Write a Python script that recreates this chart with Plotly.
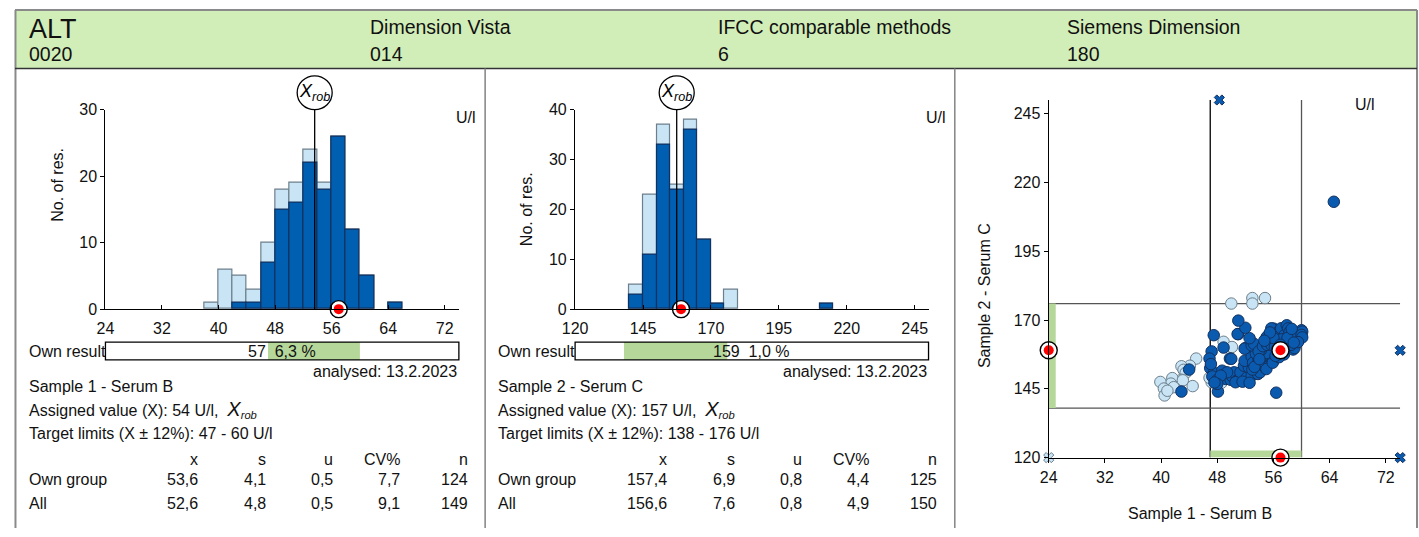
import plotly.graph_objects as go

W, H = 1419, 537
FONT = "Liberation Sans, Arial, Helvetica, sans-serif"

# ---------------- header ----------------
analyte, analyte_code = "ALT", "0020"
instrument, instrument_code = "Dimension Vista", "014"
method, method_code = "IFCC comparable methods", "6"
reagent, reagent_code = "Siemens Dimension", "180"

# ---------------- sample 1 (Serum B) histogram, bins of 2 U/l ----------------
s1_bin_start = [38, 40, 42, 44, 46, 48, 50, 52, 54, 56, 58, 60, 62, 64]
s1_bin_width = 2
s1_all = [1, 6, 5, 3, 10, 18, 19, 24, 19, 26, 12, 5, 0, 1]
s1_own = [0, 0, 1, 1, 7, 15, 16, 22, 18, 26, 12, 5, 0, 1]
s1_xrob = 53.6
s1_result = 57
s1_limits = (47, 60)
s1_assigned = 54
s1_ticks_x = [24, 32, 40, 48, 56, 64, 72]
s1_ticks_y = [0, 10, 20, 30]
s1_stats_own = [53.6, 4.1, 0.5, 7.7, 124]
s1_stats_all = [52.6, 4.8, 0.5, 9.1, 149]

# ---------------- sample 2 (Serum C) histogram, bins of 5 U/l ----------------
s2_bin_start = [140, 145, 150, 155, 160, 165, 170, 175, 180, 185, 190, 195, 200, 205, 210]
s2_bin_width = 5
s2_all = [5, 23, 37, 25, 38, 14, 1, 4, 0, 0, 0, 0, 0, 0, 1]
s2_own = [3, 11, 33, 24, 36, 14, 1, 0, 0, 0, 0, 0, 0, 0, 1]
s2_xrob = 157.4
s2_result = 159
s2_limits = (138, 176)
s2_assigned = 157
s2_ticks_x = [120, 145, 170, 195, 220, 245]
s2_ticks_y = [0, 10, 20, 30, 40]
s2_stats_own = [157.4, 6.9, 0.8, 4.4, 125]
s2_stats_all = [156.6, 7.6, 0.8, 4.9, 150]

stat_cols = ["x", "s", "u", "CV%", "n"]
analysed = "13.2.2023"

# ---------------- Youden plot: sample 1 vs sample 2 ----------------
own_x = [47.5, 47.2, 46.9, 47.0, 47.5, 47.1, 47.3, 44.0, 42.9, 48.1,
         48.0, 48.7, 49.0, 49.2, 49.9, 50.1, 50.4, 50.8, 51.0, 51.3,
         51.8, 52.0, 52.2, 52.5, 52.9, 53.7, 53.8, 54.1, 54.6, 54.8,
         55.0, 49.4, 48.5, 50.6, 51.6, 52.6, 48.9, 49.8, 50.0, 51.9,
         52.9, 53.1, 53.9, 53.8, 54.8, 55.5, 55.9, 56.0, 55.9, 55.5,
         55.0, 54.2, 53.5, 52.0, 51.9, 52.9, 53.2, 52.6, 51.0, 50.9,
         52.0, 51.0, 53.9, 54.5, 53.0, 55.0, 55.1, 55.1, 55.7, 56.0,
         56.4, 55.7, 56.7, 56.9, 57.1, 57.6, 57.9, 58.1, 58.3, 58.1,
         57.9, 58.8, 59.0, 59.0, 59.0, 60.0, 60.1, 60.0, 60.1, 58.5,
         57.2, 56.2, 56.6, 57.5, 56.8, 58.0, 59.5, 56.0, 57.0, 58.6,
         55.5, 54.7, 56.4, 64.6, 48.0, 47.6, 53.3, 54.0, 56.3, 58.9]
own_y = [164.5, 158.6, 156.0, 152.5, 150.8, 154.0, 149.5, 152.0, 144.0, 144.0,
         148.2, 151.6, 149.0, 148.6, 148.3, 149.6, 151.0, 148.0, 148.2, 151.0,
         153.4, 148.0, 149.0, 152.8, 149.8, 152.8, 150.4, 151.0, 153.4, 152.8,
         152.2, 151.0, 149.8, 147.4, 147.6, 147.2, 160.0, 156.0, 155.9, 155.2,
         156.7, 154.5, 155.0, 156.6, 157.2, 156.8, 155.6, 155.2, 154.5, 158.6,
         158.0, 159.0, 157.8, 159.8, 159.6, 160.8, 161.4, 163.4, 164.9, 164.9,
         167.2, 169.8, 158.6, 160.5, 152.0, 163.5, 164.0, 161.0, 161.0, 166.9,
         166.4, 167.0, 162.1, 166.3, 167.0, 164.6, 168.1, 167.0, 165.7, 162.1,
         159.9, 159.3, 159.8, 164.6, 165.3, 166.3, 165.8, 164.6, 163.7, 161.0,
         163.0, 160.2, 158.0, 157.5, 156.5, 163.5, 162.0, 163.5, 161.0, 166.8,
         165.5, 162.5, 143.6, 213.0, 146.8, 147.3, 153.0, 155.8, 157.0, 161.8]
other_x = [50.0, 53.0, 53.0, 54.8, 48.9, 50.1, 45.0, 44.1, 42.9, 43.2,
           43.5, 42.9, 41.6, 41.4, 39.9, 40.4, 40.5, 43.1, 41.8, 47.2,
           48.6, 40.9, 46.9, 49.3, 44.5]
other_y = [176.0, 178.0, 176.0, 178.0, 162.1, 160.2, 156.0, 153.4, 153.2, 151.9,
           150.8, 148.3, 148.9, 146.9, 147.5, 145.1, 142.6, 148.1, 145.6, 147.4,
           147.2, 144.3, 149.0, 149.3, 146.0]
# results falling outside the plotted range (shown on the frame edge)
own_out_x = [48.3, 80.0, 82.0]
own_out_y = [262.0, 159.0, 105.0]
other_out_x = [20.0]
other_out_y = [100.0]
yd_ticks_x = [24, 32, 40, 48, 56, 64, 72]
yd_ticks_y = [120, 145, 170, 195, 220, 245]

# ---------------- colours ----------------
DARK = "#005fb1"
DARK_LINE = "#12315f"
LIGHT = "#c8e4f5"
LIGHT_LINE = "#6d7f8c"
HEAD_GREEN = "#d1eeb9"
TARGET_GREEN = "#b5d89a"
TXT = "#111"


def fx(px):
    return px / W


def fy(py):
    return 1 - py / H


def num(v, nd=1):
    if isinstance(v, int):
        return str(v)
    return f"{v:.{nd}f}".replace(".", ",")


fig = go.Figure()

# axis geometry (pixels)
H1 = dict(x=(93.3, 450), y=(105, 311), xr=(24, 74), yr=(0, 30))
H2 = dict(x=(567.3, 924), y=(105, 311), xr=(120, 250.1), yr=(0, 40))
YD = dict(x=(1045.3, 1400), y=(95, 464.3), xr=(24, 74.05), yr=(120, 250))

tickfont = dict(family=FONT, size=16, color=TXT)


def set_axes(xname, yname, g, xt, yt, xticks, yticks, anchor_x, anchor_y):
    fig.layout[xname] = dict(domain=[fx(g["x"][0]), fx(g["x"][1])], range=list(g["xr"]),
                             anchor=anchor_y, showgrid=False, zeroline=False,
                             showline=True, linecolor="#000", linewidth=1.3,
                             tickvals=xticks, ticks=xt, ticklen=4, tickcolor="#000",
                             tickfont=tickfont, fixedrange=True,
                             ticklabelstandoff=4 if xt == "inside" else 1)
    fig.layout[yname] = dict(domain=[fy(g["y"][1]), fy(g["y"][0])], range=list(g["yr"]),
                             anchor=anchor_x, showgrid=False, zeroline=False,
                             showline=True, linecolor="#000", linewidth=1.3,
                             tickvals=yticks, ticks=yt, ticklen=4, tickcolor="#000",
                             tickfont=tickfont, fixedrange=True)


set_axes("xaxis", "yaxis", H1, "inside", "outside", s1_ticks_x, s1_ticks_y, "x", "y")
set_axes("xaxis2", "yaxis2", H2, "inside", "outside", s2_ticks_x, s2_ticks_y, "x2", "y2")
set_axes("xaxis3", "yaxis3", YD, "outside", "outside", yd_ticks_x, yd_ticks_y, "x3", "y3")


def add_hist(starts, width, all_counts, own_counts, xa, ya):
    for counts, fill, line in ((all_counts, LIGHT, LIGHT_LINE), (own_counts, DARK, DARK_LINE)):
        xs = [s + width / 2 for s, c in zip(starts, counts) if c > 0]
        ys = [c for c in counts if c > 0]
        fig.add_trace(go.Bar(x=xs, y=ys, width=width, xaxis=xa, yaxis=ya,
                             marker=dict(color=fill, line=dict(color=line, width=1.2)),
                             hoverinfo="skip", showlegend=False))


add_hist(s1_bin_start, s1_bin_width, s1_all, s1_own, "x", "y")
add_hist(s2_bin_start, s2_bin_width, s2_all, s2_own, "x2", "y2")


def own_marker(xs, ys, xa, ya):
    fig.add_trace(go.Scatter(x=xs, y=ys, xaxis=xa, yaxis=ya, mode="markers",
                             marker=dict(size=17, color="#fff", line=dict(color="#000", width=1.4)),
                             cliponaxis=False, hoverinfo="skip", showlegend=False))
    fig.add_trace(go.Scatter(x=xs, y=ys, xaxis=xa, yaxis=ya, mode="markers",
                             marker=dict(size=10, color="#ff0000", line=dict(width=0)),
                             cliponaxis=False, hoverinfo="skip", showlegend=False))


# Youden scatter points
fig.add_trace(go.Scatter(x=other_x, y=other_y, xaxis="x3", yaxis="y3", mode="markers",
                         marker=dict(size=11.5, color=LIGHT, line=dict(color=LIGHT_LINE, width=1)),
                         cliponaxis=False, hoverinfo="skip", showlegend=False))
fig.add_trace(go.Scatter(x=own_x, y=own_y, xaxis="x3", yaxis="y3", mode="markers",
                         marker=dict(size=11.5, color="#0a5bb0", line=dict(color=DARK_LINE, width=1)),
                         cliponaxis=False, hoverinfo="skip", showlegend=False))


def clamp(vals, lo, hi):
    return [min(max(v, lo), hi) for v in vals]


fig.add_trace(go.Scatter(x=clamp(other_out_x, *YD["xr"]), y=clamp(other_out_y, *YD["yr"]),
                         xaxis="x3", yaxis="y3", mode="markers",
                         marker=dict(symbol="x", size=9, color=LIGHT, line=dict(color=LIGHT_LINE, width=1)),
                         cliponaxis=False, hoverinfo="skip", showlegend=False))
fig.add_trace(go.Scatter(x=clamp(own_out_x, *YD["xr"]), y=clamp(own_out_y, *YD["yr"]),
                         xaxis="x3", yaxis="y3", mode="markers",
                         marker=dict(symbol="x", size=9, color="#0a5bb0", line=dict(color=DARK_LINE, width=1)),
                         cliponaxis=False, hoverinfo="skip", showlegend=False))

own_marker([s1_result], [0], "x", "y")
own_marker([s2_result], [0], "x2", "y2")
own_marker([s1_result, YD["xr"][0], s1_result], [s2_result, s2_result, YD["yr"][0]], "x3", "y3")

shapes = []
ann = []


def text(px, py, t, size=16, xanchor="left", yanchor="middle", **kw):
    ann.append(dict(x=fx(px), y=fy(py), xref="paper", yref="paper", text=t, showarrow=False,
                    xanchor=xanchor, yanchor=yanchor,
                    font=dict(family=FONT, size=size, color=kw.pop("color", TXT)), **kw))


def prect(x0, y0, x1, y1, **kw):
    shapes.append(dict(type="rect", xref="paper", yref="paper", x0=fx(x0), x1=fx(x1),
                       y0=fy(y1), y1=fy(y0), **kw))


def pline(x0, y0, x1, y1, color, width):
    shapes.append(dict(type="line", xref="paper", yref="paper", x0=fx(x0), x1=fx(x1),
                       y0=fy(y0), y1=fy(y1), line=dict(color=color, width=width)))


# header band and frame
prect(2, 2, 1417, 62.5, fillcolor=HEAD_GREEN, line=dict(width=0), layer="below")
pline(2, 2, 1417, 2, "#8a8a8a", 2)
pline(2.5, 2, 2.5, 537, "#8a8a8a", 2)
pline(1417, 2, 1417, 537, "#8a8a8a", 2)
pline(2, 62.5, 1417, 62.5, "#333", 1.5)
pline(476.5, 62.5, 476.5, 537, "#8a8a8a", 1.6)
pline(950.5, 62.5, 950.5, 537, "#8a8a8a", 1.6)

text(14, 22, analyte, size=27)
text(14, 47, analyte_code, size=19.5)
for x0, a, b in ((358, instrument, instrument_code), (709, method, method_code), (1062, reagent, reagent_code)):
    text(x0, 20, a, size=19.5)
    text(x0, 47, b, size=19.5)

XROB = "<i>X</i><sub><i>rob</i></sub>"


def hist_panel(g, xa, ya, off, xrob, result, limits, assigned, sample_name, stats_own, stats_all, ytitle_y):
    ytop = g["yr"][1]
    # X_rob marker line and bubble sitting on top of the axis
    shapes.append(dict(type="line", xref=xa, yref=ya, x0=xrob, x1=xrob, y0=0, y1=ytop,
                       line=dict(color="#000", width=1.3)))
    shapes.append(dict(type="circle", xref=xa, yref="paper", xsizemode="pixel", xanchor=xrob,
                       x0=-17.5, x1=17.5, y0=fy(g["y"][0]), y1=fy(g["y"][0] - 35),
                       fillcolor="#fff", line=dict(color="#000", width=1.3)))
    ann.append(dict(x=xrob, y=fy(g["y"][0] - 17.5), xref=xa, yref="paper", text=XROB, showarrow=False,
                    xanchor="center", yanchor="middle", font=dict(family=FONT, size=18, color="#000")))
    # unit label and y title
    text(g["x"][1] - 5, 113, "U/l")
    text(off + 45, ytitle_y, "No. of res.", xanchor="center", textangle=-90)
    # own result bar
    bx0, bx1 = g["x"]
    shapes.append(dict(type="rect", xref=xa, yref="paper", x0=limits[0], x1=limits[1],
                       y0=fy(363.3), y1=fy(345), fillcolor=TARGET_GREEN, line=dict(width=0)))
    prect(bx0, 345, bx1, 363.3, line=dict(color="#000", width=1.3))
    dev = (result - xrob) / xrob * 100
    text((bx0 + bx1) / 2, 354.5, f"{result}\u00a0\u00a0{num(dev)} %", xanchor="center")
    text(off + 14, 354.5, "Own result")
    text(bx1, 375.5, f"analysed: {analysed}", xanchor="right")
    text(off + 14, 390.5, sample_name)
    text(off + 14, 415, f"Assigned value (X): {assigned} U/l,\u00a0\u00a0"
                        f"<span style='font-size:20px'><i>X</i></span><sub><i>rob</i></sub>")
    text(off + 14, 439, f"Target limits (X ± 12%): {limits[0]} - {limits[1]} U/l")
    cols = [189, 257.3, 325, 392.7, 461]
    for cx, h in zip(cols, stat_cols):
        text(off + cx, 466.5, h, xanchor="right")
    text(off + 14, 487, "Own group")
    text(off + 14, 512, "All")
    for cx, v1, v2 in zip(cols, stats_own, stats_all):
        text(off + cx, 487, num(v1), xanchor="right")
        text(off + cx, 512, num(v2), xanchor="right")


hist_panel(H1, "x", "y", 0, s1_xrob, s1_result, s1_limits, s1_assigned, "Sample 1 - Serum B",
           s1_stats_own, s1_stats_all, 183)
hist_panel(H2, "x2", "y2", 473.5, s2_xrob, s2_result, s2_limits, s2_assigned, "Sample 2 - Serum C",
           s2_stats_own, s2_stats_all, 208)

# Youden plot target limits
for v, c in ((s1_limits[0], "#000"), (s1_limits[1], "#555")):
    shapes.append(dict(type="line", xref="x3", yref="y3", x0=v, x1=v, y0=YD["yr"][0], y1=YD["yr"][1],
                       line=dict(color=c, width=1.3), layer="below"))
for v in s2_limits:
    shapes.append(dict(type="line", xref="x3", yref="y3", x0=YD["xr"][0], x1=YD["xr"][1], y0=v, y1=v,
                       line=dict(color="#555", width=1.3), layer="below"))
shapes.append(dict(type="rect", xref="x3", yref="y3", x0=s1_limits[0], x1=s1_limits[1],
                   ysizemode="pixel", yanchor=YD["yr"][0], y0=0, y1=7,
                   fillcolor=TARGET_GREEN, line=dict(width=0), layer="below"))
shapes.append(dict(type="rect", xref="x3", yref="y3", y0=s2_limits[0], y1=s2_limits[1],
                   xsizemode="pixel", xanchor=YD["xr"][0], x0=0, x1=7,
                   fillcolor=TARGET_GREEN, line=dict(width=0), layer="below"))
text(1352, 100, "U/l")
text(980, 297.5, "Sample 2 - Serum C", xanchor="center", textangle=-90)
text(1198, 522, "Sample 1 - Serum B", xanchor="center")

fig.update_layout(width=W, height=H, margin=dict(l=0, r=0, t=0, b=0),
                  paper_bgcolor="#fff", plot_bgcolor="rgba(0,0,0,0)",
                  barmode="overlay", bargap=0, showlegend=False,
                  font=dict(family=FONT, color=TXT),
                  shapes=shapes, annotations=ann)

fig.write_html("out.html")
